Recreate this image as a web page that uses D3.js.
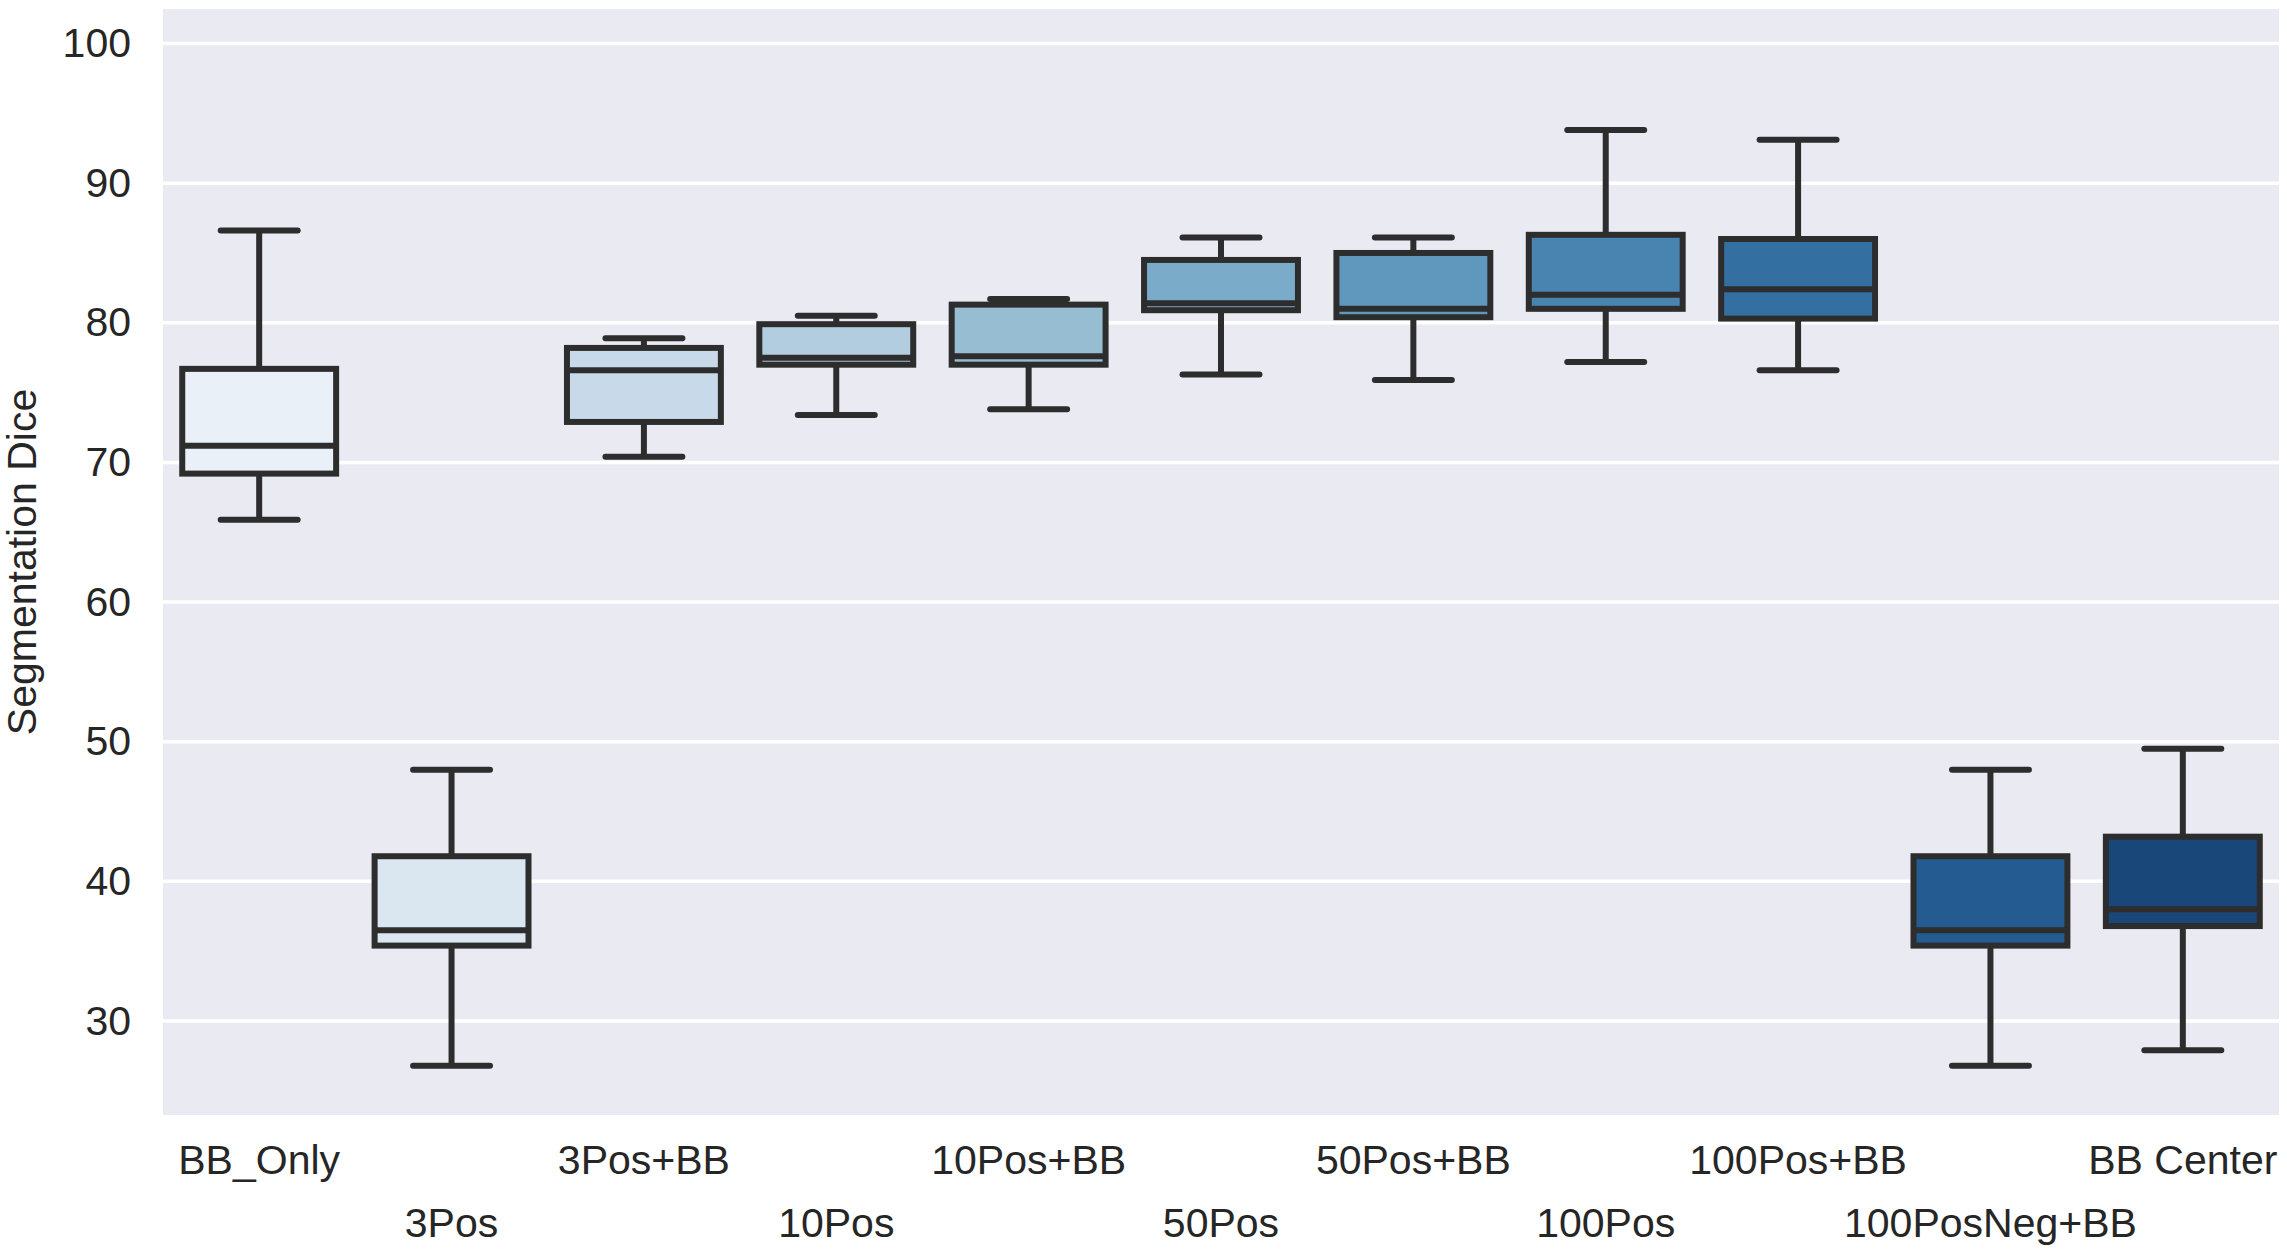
<!DOCTYPE html>
<html>
<head>
<meta charset="utf-8">
<script src="https://cdn.jsdelivr.net/npm/d3@7"></script>
<style>
  body { margin: 0; background: #fff; }
  text { font-family: "Liberation Sans", Arial, sans-serif; fill: #262626; }
</style>
</head>
<body>
<svg id="chart" width="2287" height="1249"></svg>
<script>
// box statistics
const categories = ['BB_Only', '3Pos', '3Pos+BB', '10Pos', '10Pos+BB', '50Pos',
  '50Pos+BB', '100Pos', '100Pos+BB', '100PosNeg+BB', 'BB Center']
const whiskerLow = [65.9, 26.8, 70.4, 73.4, 73.8, 76.3, 75.9, 77.2, 76.6, 26.8, 27.9]
const q1 = [69.2, 35.4, 72.9, 77.0, 77.0, 80.9, 80.4, 81.0, 80.3, 35.4, 36.8]
const median = [71.2, 36.5, 76.6, 77.5, 77.6, 81.4, 81.0, 82.0, 82.4, 36.5, 38.0]
const q3 = [76.7, 41.8, 78.2, 79.9, 81.3, 84.5, 85.0, 86.3, 86.0, 41.8, 43.2]
const whiskerHigh = [86.6, 48.0, 78.9, 80.5, 81.7, 86.1, 86.1, 93.8, 93.1, 48.0, 49.5]
const yTicks = [30, 40, 50, 60, 70, 80, 90, 100]

const margin = { top: 9, right: 8, bottom: 134, left: 163 }
const width = 2287
const height = 1249
const lineColor = '#2d2d2d'
const lineW = 6

const svg = d3.select('#chart')

const x = d3.scaleBand()
  .domain(categories)
  .range([margin.left, width - margin.right])
  .paddingInner(0)
  .paddingOuter(0)

const y = d3.scaleLinear()
  .domain([23.27, 102.47])
  .range([height - margin.bottom, margin.top])

// seaborn-like Blues palette, desaturated a bit
const palette = categories.map((d, i) => {
  const c = d3.hsl(d3.interpolateBlues((i + 1) / (categories.length + 1)))
  c.s *= 0.75
  return c.formatHex()
})

svg.append('rect')
  .attr('x', margin.left)
  .attr('y', margin.top)
  .attr('width', width - margin.left - margin.right)
  .attr('height', height - margin.top - margin.bottom)
  .attr('fill', '#eaeaf2')

// grid
svg.append('g')
  .selectAll('line')
  .data(yTicks)
  .join('line')
  .attr('x1', margin.left)
  .attr('x2', width - margin.right)
  .attr('y1', d => y(d))
  .attr('y2', d => y(d))
  .attr('stroke', '#fff')
  .attr('stroke-width', 3.5)

// y axis labels
const yAxis = d3.axisLeft(y).tickValues(yTicks).tickSize(0).tickPadding(32)
svg.append('g')
  .attr('transform', `translate(${margin.left},0)`)
  .call(yAxis)
  .call(g => g.select('.domain').remove())
  .selectAll('text')
  .attr('font-size', 41)
  .attr('font-family', '"Liberation Sans", Arial, sans-serif')
  .attr('fill', '#262626')

// x axis labels, staggered in two rows
svg.append('g')
  .selectAll('text')
  .data(categories)
  .join('text')
  .attr('x', d => x(d) + x.bandwidth() / 2)
  .attr('y', (d, i) => i % 2 === 0 ? 1174 : 1237)
  .attr('text-anchor', 'middle')
  .attr('font-size', 41)
  .text(d => d)

svg.append('text')
  .attr('transform', `translate(36,${(margin.top + height - margin.bottom) / 2}) rotate(-90)`)
  .attr('text-anchor', 'middle')
  .attr('font-size', 41)
  .text('Segmentation Dice')

const boxW = x.bandwidth() * 0.8
const boxes = svg.append('g')
  .selectAll('g')
  .data(categories)
  .join('g')
  .attr('transform', d => `translate(${x(d) + x.bandwidth() / 2},0)`)

// whiskers
boxes.append('line')
  .attr('y1', (d, i) => y(whiskerHigh[i]))
  .attr('y2', (d, i) => y(q3[i]))
  .attr('stroke', lineColor).attr('stroke-width', lineW)
boxes.append('line')
  .attr('y1', (d, i) => y(q1[i]))
  .attr('y2', (d, i) => y(whiskerLow[i]))
  .attr('stroke', lineColor).attr('stroke-width', lineW)

// caps
for (const arr of [whiskerHigh, whiskerLow]) {
  boxes.append('line')
    .attr('x1', -boxW / 4)
    .attr('x2', boxW / 4)
    .attr('y1', (d, i) => y(arr[i]))
    .attr('y2', (d, i) => y(arr[i]))
    .attr('stroke', lineColor)
    .attr('stroke-width', lineW)
    .attr('stroke-linecap', 'round')
}

boxes.append('rect')
  .attr('x', -boxW / 2)
  .attr('width', boxW)
  .attr('y', (d, i) => y(q3[i]))
  .attr('height', (d, i) => y(q1[i]) - y(q3[i]))
  .attr('fill', (d, i) => palette[i])
  .attr('stroke', lineColor)
  .attr('stroke-width', lineW)

boxes.append('line')
  .attr('x1', -boxW / 2)
  .attr('x2', boxW / 2)
  .attr('y1', (d, i) => y(median[i]))
  .attr('y2', (d, i) => y(median[i]))
  .attr('stroke', lineColor)
  .attr('stroke-width', lineW)
</script>
</body>
</html>
